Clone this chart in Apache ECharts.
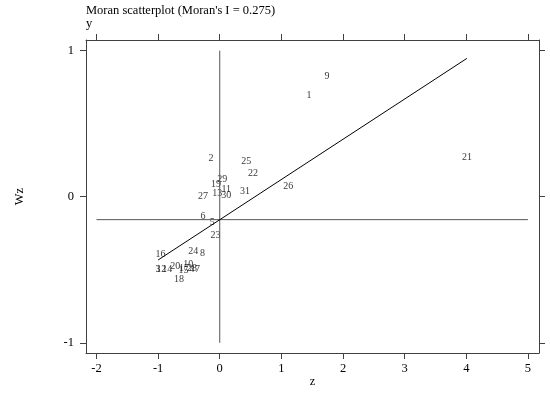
<!DOCTYPE html>
<html>
<head>
<meta charset="utf-8">
<script src="https://cdn.jsdelivr.net/npm/echarts@6/dist/echarts.min.js"></script>
<style>
html,body{margin:0;padding:0;background:#fff;}
#c{width:550px;height:393px;}
</style>
</head>
<body>
<div id="c"></div>
<script>
// Region ids, standardized values z and spatial lag Wz
const ids = [1,2,3,4,5,6,7,8,9,10,11,12,13,14,15,16,17,18,19,20,21,22,23,24,25,26,27,28,29,30,31];
const zVals = [1.45,-0.14,-1.00,-0.45,-0.12,-0.27,-0.36,-0.28,1.74,-0.51,0.105,-0.95,-0.04,-0.85,-0.59,-0.96,-0.58,-0.66,-0.06,-0.72,4.01,0.54,-0.07,-0.43,0.43,1.11,-0.27,-0.45,0.04,0.105,0.41];
const wzVals = [0.704,0.267,-0.492,-0.492,-0.171,-0.13,-0.492,-0.383,0.834,-0.458,0.055,-0.492,0.027,-0.492,-0.499,-0.39,-0.485,-0.56,0.089,-0.472,0.273,0.164,-0.26,-0.369,0.246,0.075,0.007,-0.485,0.123,0.014,0.041];
const xTicks = [-2,-1,0,1,2,3,4,5];
const yTicks = [-1,0,1];
const fitX = [-1.00, 4.01];
const fitY = [-0.433, 0.947];
const meanWz = -0.157;
const vLine = [[0,-1],[0,1]];
const hLine = [[-2,meanWz],[5,meanWz]];

const FONT = '"Liberation Serif", "DejaVu Serif", serif';
const AX = '#404040';
const chart = echarts.init(document.getElementById('c'));
const pts = ids.map((id,i)=>[zVals[i], wzVals[i], id]);
const xMin=-2.17, xMax=5.18, yMin=-1.07, yMax=1.073;
const axCommonX = {
  type:'value', min:xMin, max:xMax, splitLine:{show:false},
  axisLine:{show:true, onZero:false, lineStyle:{color:AX, width:1}},
  axisTick:{show:true, length:6, customValues:xTicks, lineStyle:{color:AX}},
};
const axCommonY = {
  type:'value', min:yMin, max:yMax, splitLine:{show:false},
  axisLine:{show:true, onZero:false, lineStyle:{color:AX, width:1}},
  axisTick:{show:true, length:6, customValues:yTicks, lineStyle:{color:AX}},
};
chart.setOption({
  animation:false,
  backgroundColor:'#fff',
  textStyle:{fontFamily:FONT},
  title:[
    {text:"Moran scatterplot (Moran's I = 0.275)", left:81, top:-1, textStyle:{fontFamily:FONT, fontSize:12.5, fontWeight:'normal', color:'#000'}},
    {text:'y', left:81, top:12, textStyle:{fontFamily:FONT, fontSize:12.5, fontWeight:'normal', color:'#000'}}
  ],
  grid:{left:86, right:11, top:40, bottom:40, containLabel:false, outerBoundsMode:'none'},
  xAxis:[
    Object.assign({}, axCommonX, {position:'bottom', name:'z', nameLocation:'middle', nameGap:22, nameMoveOverlap:false,
      nameTextStyle:{fontFamily:FONT, fontSize:12.5, color:'#000'},
      axisLabel:{show:true, customValues:xTicks, margin:9, fontFamily:FONT, fontSize:12.5, color:'#000'}}),
    Object.assign({}, axCommonX, {position:'top', axisLabel:{show:false}})
  ],
  yAxis:[
    Object.assign({}, axCommonY, {position:'left', name:'Wz', nameLocation:'middle', nameGap:60, nameRotate:90, nameMoveOverlap:false,
      nameTextStyle:{fontFamily:FONT, fontSize:12.5, color:'#000'},
      axisLabel:{show:true, customValues:yTicks, margin:12, fontFamily:FONT, fontSize:12.5, color:'#000'}}),
    Object.assign({}, axCommonY, {position:'right', axisLabel:{show:false}})
  ],
  series:[
    {type:'line', data:vLine, showSymbol:false, symbol:'none', lineStyle:{color:'#555', width:1}, silent:true},
    {type:'line', data:hLine, showSymbol:false, symbol:'none', lineStyle:{color:'#555', width:1}, silent:true},
    {type:'line', data:fitX.map((x,i)=>[x,fitY[i]]), showSymbol:false, symbol:'none', lineStyle:{color:'#000', width:1}, silent:true},
    {type:'scatter', data:pts, symbolSize:0, silent:true,
      label:{show:true, position:'inside', offset:[0,1], formatter:p=>String(p.value[2]), fontFamily:FONT, fontSize:10, color:'#000'}}
  ]
});
</script>
</body>
</html>
